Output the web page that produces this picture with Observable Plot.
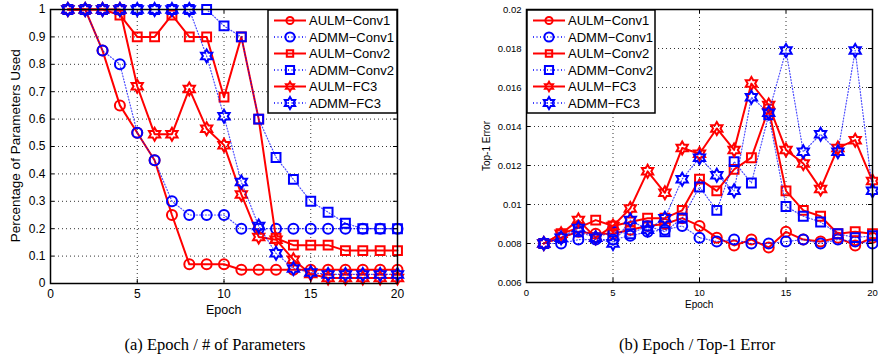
<!DOCTYPE html>
<html><head><meta charset="utf-8">
<script src="https://cdn.jsdelivr.net/npm/d3@7"></script>
<script src="https://cdn.jsdelivr.net/npm/@observablehq/plot@0.6"></script>
<style>
body{margin:0;background:#fff;}
#wrap{position:relative;width:878px;height:360px;overflow:hidden;font-family:"Liberation Sans",Arial,sans-serif;color:#000;}
.abs{position:absolute;white-space:nowrap;}
</style></head><body><div id="wrap"></div>
<script>
// ---------- data ----------
const epochs = [1,2,3,4,5,6,7,8,9,10,11,12,13,14,15,16,17,18,19,20];
const seriesNames = ["AULM\u2212Conv1","ADMM\u2212Conv1","AULM\u2212Conv2","ADMM\u2212Conv2","AULM\u2212FC3","ADMM\u2212FC3"];

const paramAULMConv1 = [1,1,0.85,0.65,0.55,0.45,0.25,0.07,0.07,0.07,0.05,0.05,0.05,0.05,0.05,0.05,0.05,0.05,0.05,0.05];
const paramADMMConv1 = [1,1,0.85,0.8,0.55,0.45,0.3,0.25,0.25,0.25,0.2,0.2,0.2,0.2,0.2,0.2,0.2,0.2,0.2,0.2];
const paramAULMConv2 = [1,1,1,0.98,0.9,0.9,0.98,0.9,0.9,0.68,0.9,0.6,0.165,0.14,0.14,0.14,0.12,0.12,0.12,0.12];
const paramADMMConv2 = [1,1,1,1,1,1,1,1,1,0.94,0.9,0.6,0.46,0.38,0.3,0.26,0.22,0.2,0.2,0.2];
const paramAULMFC3   = [1,1,1,1,0.72,0.545,0.545,0.71,0.565,0.505,0.325,0.17,0.16,0.087,0.035,0.02,0.02,0.02,0.02,0.02];
const paramADMMFC3   = [1,1,1,1,1,1,1,1,0.83,0.61,0.37,0.21,0.11,0.055,0.04,0.033,0.033,0.033,0.033,0.033];

const errAULMConv1 = [0.008,0.0083,0.0086,0.0085,0.0085,0.0087,0.0089,0.0090,0.0093,0.0089,0.0083,0.0079,0.0082,0.0078,0.0086,0.0082,0.0081,0.0083,0.0079,0.0083];
const errADMMConv1 = [0.008,0.0080,0.0082,0.0082,0.0082,0.0084,0.0086,0.0087,0.0089,0.0083,0.0081,0.0082,0.0080,0.0080,0.0081,0.0082,0.0080,0.0082,0.0081,0.0080];
const errAULMConv2 = [0.008,0.0085,0.0088,0.0092,0.0089,0.0091,0.0093,0.0093,0.0097,0.0113,0.0107,0.0118,0.0124,0.0149,0.0107,0.0097,0.0094,0.0085,0.0086,0.0085];
const errADMMConv2 = [0.008,0.0083,0.0086,0.0083,0.0086,0.0085,0.0089,0.0086,0.0093,0.0109,0.0097,0.0122,0.0111,0.0146,0.0099,0.0094,0.0091,0.0085,0.0083,0.0084];
const errAULMFC3   = [0.008,0.0085,0.0092,0.0083,0.0089,0.0098,0.0117,0.0106,0.0129,0.0126,0.0139,0.0128,0.0162,0.0151,0.0128,0.0121,0.0108,0.0129,0.0133,0.0112];
const errADMMFC3   = [0.008,0.0083,0.0088,0.0083,0.0080,0.0092,0.0087,0.0093,0.0113,0.0124,0.0115,0.0107,0.0155,0.0147,0.0179,0.0127,0.0136,0.0127,0.0179,0.0107];

const xTicks = [0,5,10,15,20];
const paramTicks = [0,0.1,0.2,0.3,0.4,0.5,0.6,0.7,0.8,0.9,1];
const errTicks = [0.006,0.008,0.01,0.012,0.014,0.016,0.018,0.02];

// ---------- styles ----------
const RED = "#ff0000", BLUE = "#0000ff";
const hexagram = {
  draw(context, size) {
    const R = Math.sqrt(size / Math.PI) * 1.3, r = R / Math.sqrt(3);
    for (let i = 0; i < 12; i++) {
      const a = i * Math.PI / 6 - Math.PI / 2, rad = i % 2 ? r : R;
      const x = rad * Math.cos(a), y = rad * Math.sin(a);
      if (i === 0) context.moveTo(x, y); else context.lineTo(x, y);
    }
    context.closePath();
  }
};
const styles = [
  {color: RED, solid: true, symbol: "circle"},
  {color: BLUE, solid: false, symbol: "circle"},
  {color: RED, solid: true, symbol: "square"},
  {color: BLUE, solid: false, symbol: "square"},
  {color: RED, solid: true, symbol: hexagram},
  {color: BLUE, solid: false, symbol: hexagram}
];

function rowsOf(values) { return epochs.map((e, i) => ({epoch: e, value: values[i]})); }

function makePlot(cfg) {
  const H = cfg.height - cfg.mT - cfg.mB;
  const W = cfg.width - cfg.mL - cfg.mR;
  const marks = [];
  marks.push(Plot.ruleX(xTicks.slice(1, -1), {stroke: "#333", strokeDasharray: "1,3", strokeWidth: 1}));
  marks.push(Plot.ruleY(cfg.yTicks.slice(1, -1), {stroke: "#333", strokeDasharray: "1,3", strokeWidth: 1}));
  cfg.series.forEach((vals, k) => {
    const s = styles[k];
    marks.push(Plot.line(rowsOf(vals), {x: "epoch", y: "value", stroke: s.color,
      strokeWidth: s.solid ? 2 : 1.2, strokeDasharray: s.solid ? null : "1,2", strokeOpacity: s.solid ? 1 : 0.7}));
    marks.push(Plot.dot(rowsOf(vals), {x: "epoch", y: "value", stroke: s.color, fill: "none",
      strokeWidth: 2, r: 5, symbol: s.symbol}));
  });
  // inward tick marks (MATLAB style)
  marks.push(Plot.ruleX(xTicks, {stroke: "#000", insetTop: H - 4}));
  marks.push(Plot.ruleX(xTicks, {stroke: "#000", insetBottom: H - 4}));
  marks.push(Plot.ruleY(cfg.yTicks, {stroke: "#000", insetRight: W - 4}));
  marks.push(Plot.ruleY(cfg.yTicks, {stroke: "#000", insetLeft: W - 4}));
  marks.push(Plot.frame({stroke: "#000", strokeWidth: 1.5}));
  marks.push(Plot.axisX({ticks: xTicks, tickSize: 0, tickPadding: cfg.xPad, label: null, fontSize: cfg.fs, tickFormat: d => String(d)}));
  marks.push(Plot.axisY({ticks: cfg.yTicks, tickSize: 0, tickPadding: cfg.yPad, label: null, fontSize: cfg.fs, tickFormat: d => String(d)}));
  return Plot.plot({
    width: cfg.width, height: cfg.height,
    marginLeft: cfg.mL, marginRight: cfg.mR, marginTop: cfg.mT, marginBottom: cfg.mB,
    x: {domain: [0, 20]}, y: {domain: cfg.yDomain},
    style: {fontFamily: "'Liberation Sans', Arial, sans-serif", color: "#000", background: "transparent", overflow: "visible"},
    marks
  });
}

const wrap = document.getElementById("wrap");
function place(el, left, top) { el.style.position = "absolute"; el.style.left = left + "px"; el.style.top = top + "px"; wrap.appendChild(el); return el; }

const left = makePlot({width: 440, height: 300, mL: 50, mR: 43, mT: 9, mB: 17, yDomain: [0, 1], yTicks: paramTicks,
  series: [paramAULMConv1, paramADMMConv1, paramAULMConv2, paramADMMConv2, paramAULMFC3, paramADMMFC3], fs: 12, xPad: 6, yPad: 5});
place(left, 0, 0);
const right = makePlot({width: 438, height: 300, mL: 86, mR: 6, mT: 9, mB: 18, yDomain: [0.006, 0.02], yTicks: errTicks,
  series: [errAULMConv1, errADMMConv1, errAULMConv2, errADMMConv2, errAULMFC3, errADMMFC3], fs: 9.5, xPad: 7, yPad: 5});
place(right, 440, 0);

// ---------- legends ----------
function legend(x, y, w, h) {
  const svg = d3.create("svg").attr("width", w + 2).attr("height", h + 2);
  svg.append("rect").attr("x", 1).attr("y", 1).attr("width", w).attr("height", h).attr("fill", "#fff").attr("stroke", "#000").attr("stroke-width", 1.5);
  seriesNames.forEach((name, i) => {
    const s = styles[i];
    const cy = 11.5 + i * 16.5;
    svg.append("line").attr("x1", 7).attr("x2", 39).attr("y1", cy).attr("y2", cy).attr("stroke", s.color)
      .attr("stroke-width", s.solid ? 2 : 1.5).attr("stroke-dasharray", s.solid ? null : "1,2.5");
    const sym = typeof s.symbol === "string" ? (s.symbol === "circle" ? d3.symbolCircle : d3.symbolSquare) : s.symbol;
    svg.append("path").attr("d", d3.symbol(sym, (s.solid ? 3.6 : 4.6) ** 2 * Math.PI)()).attr("transform", `translate(23,${cy})`)
      .attr("fill", "none").attr("stroke", s.color).attr("stroke-width", 2);
    svg.append("text").attr("x", 42).attr("y", cy).attr("dy", "0.36em").attr("font-size", 13)
      .attr("font-family", "'Liberation Sans', Arial, sans-serif").text(name);
  });
  place(svg.node(), x - 1, y - 1);
}
legend(268, 10, 129, 103);
legend(527, 10, 128, 103);

// ---------- axis labels & captions ----------
function label(text, cx, cy, size, family, rotate) {
  const d = document.createElement("div");
  d.className = "abs";
  d.textContent = text;
  d.style.fontSize = size + "px";
  d.style.fontFamily = family;
  d.style.lineHeight = "1";
  wrap.appendChild(d);
  const w = d.offsetWidth, h = d.offsetHeight;
  d.style.left = (cx - w / 2) + "px";
  d.style.top = (cy - h / 2) + "px";
  if (rotate) d.style.transform = "rotate(-90deg)";
  return d;
}
const SANS = "'Liberation Sans', Arial, sans-serif", SERIF = "'Liberation Serif', 'Times New Roman', serif";
label("Percentage of Parameters Used", 15, 146, 13.5, SANS, true);
label("Epoch", 223.5, 310, 12.5, SANS);
label("Top-1 Error", 487, 146, 10, SANS, true);
label("Epoch", 699, 305, 10, SANS);
label("(a) Epoch / # of Parameters", 215, 345, 16.5, SERIF);
label("(b) Epoch / Top-1 Error", 697, 345, 16.5, SERIF);
</script></body></html>
